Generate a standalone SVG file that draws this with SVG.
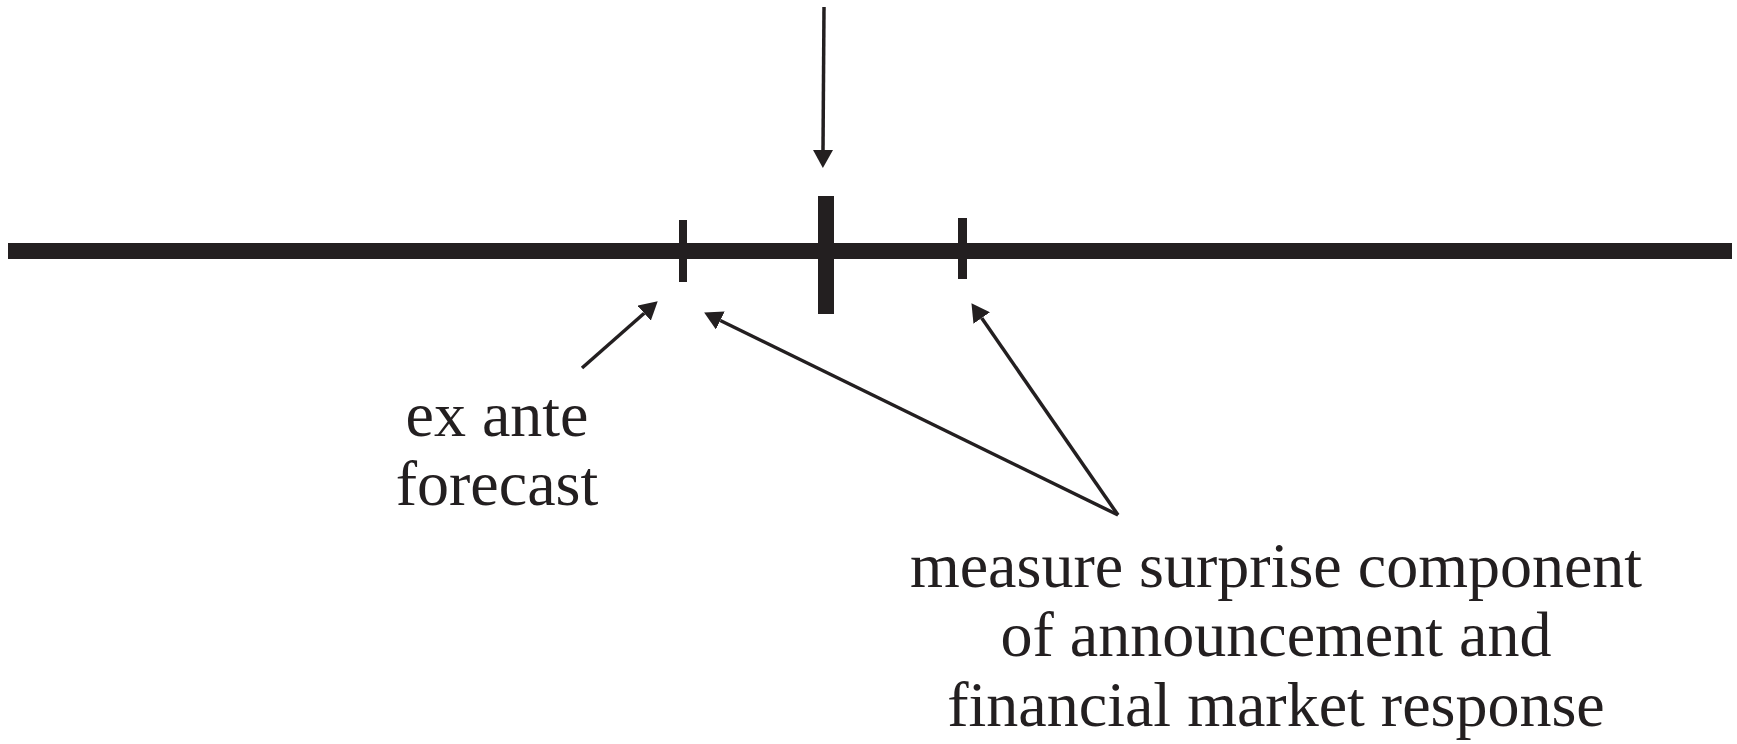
<svg xmlns="http://www.w3.org/2000/svg" width="1737" height="744" viewBox="0 0 1737 744">
<style>
.txt{font-family:"Liberation Serif","Times New Roman",serif;font-size:64px;fill:#231f20;text-anchor:middle}
.bar{fill:#231f20}
.arr{stroke:#231f20;stroke-width:3.5;fill:none;marker-end:url(#ah)}
</style>
<defs>
<marker id="ah" viewBox="0 -10 18 20" refX="0" refY="0" markerWidth="18" markerHeight="20" markerUnits="userSpaceOnUse" orient="auto">
<path d="M0,-10 L18,0 L0,10 z" fill="#231f20"/>
</marker>
</defs>
<rect width="1737" height="744" fill="#ffffff"/>
<g id="timeline">
<rect class="bar" x="8" y="243" width="1724" height="16"/>
<rect class="bar" x="679" y="220" width="8" height="62"/>
<rect class="bar" x="818" y="196" width="16" height="118"/>
<rect class="bar" x="958" y="218" width="9" height="61"/>
</g>
<g id="connectors">
<line class="arr" x1="824" y1="7" x2="823" y2="150"/>
<line class="arr" x1="582" y1="368" x2="644.2" y2="313.2"/>
<line class="arr" x1="1118" y1="515" x2="720.3" y2="320.5"/>
<line class="arr" x1="1118" y1="515" x2="981.7" y2="318"/>
</g>
<g id="label-exante">
<text class="txt" x="497" y="436">ex ante</text>
<text class="txt" x="497" y="505">forecast</text>
</g>
<g id="label-surprise">
<text class="txt" x="1276" y="587">measure surprise component</text>
<text class="txt" x="1276" y="656">of announcement and</text>
<text class="txt" x="1276" y="726">financial market response</text>
</g>
</svg>
